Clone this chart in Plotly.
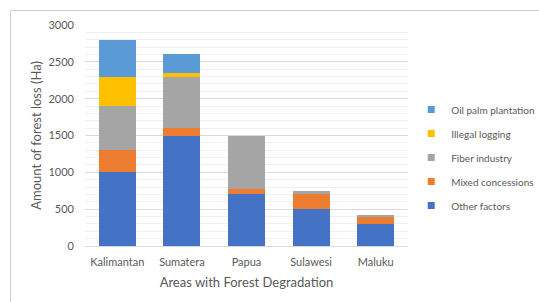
import plotly.graph_objects as go

areas = ["Kalimantan", "Sumatera", "Papua", "Sulawesi", "Maluku"]
other_factors = [1000, 1500, 700, 500, 300]
mixed_concessions = [300, 100, 80, 200, 100]
fiber_industry = [600, 700, 720, 50, 20]
illegal_logging = [400, 50, 0, 0, 0]
oil_palm = [500, 250, 0, 0, 0]

series = [
    ("Other factors", other_factors, "#4472C4"),
    ("Mixed concessions", mixed_concessions, "#ED7D31"),
    ("Fiber industry", fiber_industry, "#A5A5A5"),
    ("Illegal logging", illegal_logging, "#FFC000"),
    ("Oil palm plantation", oil_palm, "#5B9BD5"),
]

FONT = "Lato"
fig = go.Figure()
for name, vals, col in series:
    fig.add_trace(go.Bar(x=areas, y=vals, name=name, marker_color=col,
                         marker_line_width=0, showlegend=False))
# legend entries with small square markers (top entry = top of stack)
for name, vals, col in reversed(series):
    fig.add_trace(go.Scatter(x=[None], y=[None], mode="markers", name=name,
                             legendgroup=name,
                             marker=dict(symbol="square", size=7, color=col)))

bx = (10.5 - 85) / 323
by = (246 - 10.5) / 221

fig.update_layout(
    width=539, height=302,
    margin=dict(l=85, r=131, t=25, b=56, autoexpand=False),
    barmode="stack", bargap=0.43,
    plot_bgcolor="white", paper_bgcolor="white",
    font=dict(family=FONT, color="#595959", size=11),
    legend=dict(x=1.01, y=0.40, xanchor="left", yanchor="middle",
                traceorder="grouped", tracegroupgap=5,
                font=dict(size=10, color="#595959"), itemwidth=30),
    xaxis=dict(showline=True, linecolor="#d9d9d9", ticks="", automargin=False,
               tickfont=dict(size=11), ticklabelstandoff=6,
               title=dict(text="Areas with Forest Degradation", font=dict(size=13), standoff=10)),
    yaxis=dict(range=[0, 3000], dtick=500, showline=False, gridcolor="#d9d9d9",
               zeroline=False, ticks="", tickfont=dict(size=11), ticklabelstandoff=10,
               automargin=False,
               minor=dict(dtick=100, showgrid=True, gridcolor="#f0f0f0"),
               title=dict(text="Amount of forest loss (Ha)", font=dict(size=13), standoff=3)),
    shapes=[
        dict(type="line", xref="paper", yref="paper", x0=bx, x1=1.5, y0=by, y1=by,
             line=dict(color="#d0d0d0", width=1)),
        dict(type="line", xref="paper", yref="paper", x0=bx, x1=bx, y0=by, y1=-0.3,
             line=dict(color="#d0d0d0", width=1)),
    ],
)

fig.write_html("out.html", config={"displayModeBar": False},
               post_script="document.body.style.margin='0';")
